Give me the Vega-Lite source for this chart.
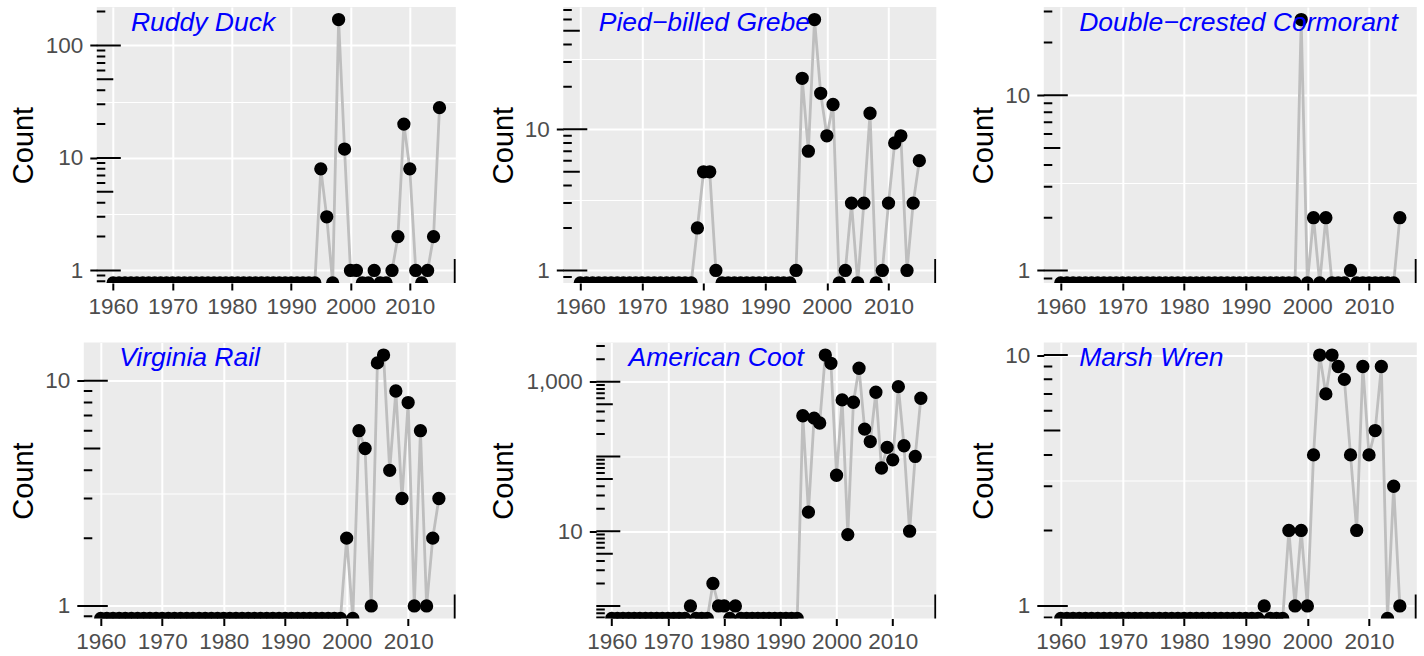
{
  "$schema": "https://vega.github.io/schema/vega-lite/v6.json",
  "background": "white",
  "padding": {"left": 8.8, "top": 7, "right": 0, "bottom": 0},
  "datasets": {
    "logticks": [
      {"v": 0.6, "kind": "short"}, {"v": 0.7, "kind": "short"}, {"v": 0.8, "kind": "short"}, {"v": 0.9, "kind": "short"},
      {"v": 1, "kind": "long"}, {"v": 2, "kind": "short"}, {"v": 3, "kind": "short"}, {"v": 4, "kind": "short"}, {"v": 5, "kind": "mid"},
      {"v": 6, "kind": "short"}, {"v": 7, "kind": "short"}, {"v": 8, "kind": "short"}, {"v": 9, "kind": "short"},
      {"v": 10, "kind": "long"}, {"v": 20, "kind": "short"}, {"v": 30, "kind": "short"}, {"v": 40, "kind": "short"}, {"v": 50, "kind": "mid"},
      {"v": 60, "kind": "short"}, {"v": 70, "kind": "short"}, {"v": 80, "kind": "short"}, {"v": 90, "kind": "short"},
      {"v": 100, "kind": "long"}, {"v": 200, "kind": "short"}, {"v": 300, "kind": "short"}, {"v": 400, "kind": "short"}, {"v": 500, "kind": "mid"},
      {"v": 600, "kind": "short"}, {"v": 700, "kind": "short"}, {"v": 800, "kind": "short"}, {"v": 900, "kind": "short"},
      {"v": 1000, "kind": "long"}, {"v": 2000, "kind": "short"}, {"v": 3000, "kind": "short"}
    ],
    "ruddy": [
      {"year":1960,"count":0},{"year":1961,"count":0},{"year":1962,"count":0},{"year":1963,"count":0},{"year":1964,"count":0},{"year":1965,"count":0},{"year":1966,"count":0},{"year":1967,"count":0},{"year":1968,"count":0},{"year":1969,"count":0},
      {"year":1970,"count":0},{"year":1971,"count":0},{"year":1972,"count":0},{"year":1973,"count":0},{"year":1974,"count":0},{"year":1975,"count":0},{"year":1976,"count":0},{"year":1977,"count":0},{"year":1978,"count":0},{"year":1979,"count":0},
      {"year":1980,"count":0},{"year":1981,"count":0},{"year":1982,"count":0},{"year":1983,"count":0},{"year":1984,"count":0},{"year":1985,"count":0},{"year":1986,"count":0},{"year":1987,"count":0},{"year":1988,"count":0},{"year":1989,"count":0},
      {"year":1990,"count":0},{"year":1991,"count":0},{"year":1992,"count":0},{"year":1993,"count":0},{"year":1994,"count":0},{"year":1995,"count":8},{"year":1996,"count":3},{"year":1997,"count":0},{"year":1998,"count":170},{"year":1999,"count":12},
      {"year":2000,"count":1},{"year":2001,"count":1},{"year":2002,"count":0},{"year":2003,"count":0},{"year":2004,"count":1},{"year":2005,"count":0},{"year":2006,"count":0},{"year":2007,"count":1},{"year":2008,"count":2},{"year":2009,"count":20},
      {"year":2010,"count":8},{"year":2011,"count":1},{"year":2012,"count":0},{"year":2013,"count":1},{"year":2014,"count":2},{"year":2015,"count":28}
    ],
    "grebe": [
      {"year":1960,"count":0},{"year":1961,"count":0},{"year":1962,"count":0},{"year":1963,"count":0},{"year":1964,"count":0},{"year":1965,"count":0},{"year":1966,"count":0},{"year":1967,"count":0},{"year":1968,"count":0},{"year":1969,"count":0},
      {"year":1970,"count":0},{"year":1971,"count":0},{"year":1972,"count":0},{"year":1973,"count":0},{"year":1974,"count":0},{"year":1975,"count":0},{"year":1976,"count":0},{"year":1977,"count":0},{"year":1978,"count":0},{"year":1979,"count":2},
      {"year":1980,"count":5},{"year":1981,"count":5},{"year":1982,"count":1},{"year":1983,"count":0},{"year":1984,"count":0},{"year":1985,"count":0},{"year":1986,"count":0},{"year":1987,"count":0},{"year":1988,"count":0},{"year":1989,"count":0},
      {"year":1990,"count":0},{"year":1991,"count":0},{"year":1992,"count":0},{"year":1993,"count":0},{"year":1994,"count":0},{"year":1995,"count":1},{"year":1996,"count":23},{"year":1997,"count":7},{"year":1998,"count":60},{"year":1999,"count":18},
      {"year":2000,"count":9},{"year":2001,"count":15},{"year":2002,"count":0},{"year":2003,"count":1},{"year":2004,"count":3},{"year":2005,"count":0},{"year":2006,"count":3},{"year":2007,"count":13},{"year":2008,"count":0},{"year":2009,"count":1},
      {"year":2010,"count":3},{"year":2011,"count":8},{"year":2012,"count":9},{"year":2013,"count":1},{"year":2014,"count":3},{"year":2015,"count":6}
    ],
    "cormorant": [
      {"year":1960,"count":0},{"year":1961,"count":0},{"year":1962,"count":0},{"year":1963,"count":0},{"year":1964,"count":0},{"year":1965,"count":0},{"year":1966,"count":0},{"year":1967,"count":0},{"year":1968,"count":0},{"year":1969,"count":0},
      {"year":1970,"count":0},{"year":1971,"count":0},{"year":1972,"count":0},{"year":1973,"count":0},{"year":1974,"count":0},{"year":1975,"count":0},{"year":1976,"count":0},{"year":1977,"count":0},{"year":1978,"count":0},{"year":1979,"count":0},
      {"year":1980,"count":0},{"year":1981,"count":0},{"year":1982,"count":0},{"year":1983,"count":0},{"year":1984,"count":0},{"year":1985,"count":0},{"year":1986,"count":0},{"year":1987,"count":0},{"year":1988,"count":0},{"year":1989,"count":0},
      {"year":1990,"count":0},{"year":1991,"count":0},{"year":1992,"count":0},{"year":1993,"count":0},{"year":1994,"count":0},{"year":1995,"count":0},{"year":1996,"count":0},{"year":1997,"count":0},{"year":1998,"count":0},{"year":1999,"count":27},
      {"year":2000,"count":0},{"year":2001,"count":2},{"year":2002,"count":0},{"year":2003,"count":2},{"year":2004,"count":0},{"year":2005,"count":0},{"year":2006,"count":0},{"year":2007,"count":1},{"year":2008,"count":0},{"year":2009,"count":0},
      {"year":2010,"count":0},{"year":2011,"count":0},{"year":2012,"count":0},{"year":2013,"count":0},{"year":2014,"count":0},{"year":2015,"count":2}
    ],
    "rail": [
      {"year":1960,"count":0},{"year":1961,"count":0},{"year":1962,"count":0},{"year":1963,"count":0},{"year":1964,"count":0},{"year":1965,"count":0},{"year":1966,"count":0},{"year":1967,"count":0},{"year":1968,"count":0},{"year":1969,"count":0},
      {"year":1970,"count":0},{"year":1971,"count":0},{"year":1972,"count":0},{"year":1973,"count":0},{"year":1974,"count":0},{"year":1975,"count":0},{"year":1976,"count":0},{"year":1977,"count":0},{"year":1978,"count":0},{"year":1979,"count":0},
      {"year":1980,"count":0},{"year":1981,"count":0},{"year":1982,"count":0},{"year":1983,"count":0},{"year":1984,"count":0},{"year":1985,"count":0},{"year":1986,"count":0},{"year":1987,"count":0},{"year":1988,"count":0},{"year":1989,"count":0},
      {"year":1990,"count":0},{"year":1991,"count":0},{"year":1992,"count":0},{"year":1993,"count":0},{"year":1994,"count":0},{"year":1995,"count":0},{"year":1996,"count":0},{"year":1997,"count":0},{"year":1998,"count":0},{"year":1999,"count":0},
      {"year":2000,"count":2},{"year":2001,"count":0},{"year":2002,"count":6},{"year":2003,"count":5},{"year":2004,"count":1},{"year":2005,"count":12},{"year":2006,"count":13},{"year":2007,"count":4},{"year":2008,"count":9},{"year":2009,"count":3},
      {"year":2010,"count":8},{"year":2011,"count":1},{"year":2012,"count":6},{"year":2013,"count":1},{"year":2014,"count":2},{"year":2015,"count":3}
    ],
    "coot": [
      {"year":1960,"count":0},{"year":1961,"count":0},{"year":1962,"count":0},{"year":1963,"count":0},{"year":1964,"count":0},{"year":1965,"count":0},{"year":1966,"count":0},{"year":1967,"count":0},{"year":1968,"count":0},{"year":1969,"count":0},
      {"year":1970,"count":0},{"year":1971,"count":0},{"year":1972,"count":0},{"year":1973,"count":0},{"year":1974,"count":1},{"year":1975,"count":0},{"year":1976,"count":0},{"year":1977,"count":0},{"year":1978,"count":2},{"year":1979,"count":1},
      {"year":1980,"count":1},{"year":1981,"count":0},{"year":1982,"count":1},{"year":1983,"count":0},{"year":1984,"count":0},{"year":1985,"count":0},{"year":1986,"count":0},{"year":1987,"count":0},{"year":1988,"count":0},{"year":1989,"count":0},
      {"year":1990,"count":0},{"year":1991,"count":0},{"year":1992,"count":0},{"year":1993,"count":0},{"year":1994,"count":350},{"year":1995,"count":18},{"year":1996,"count":325},{"year":1997,"count":280},{"year":1998,"count":2270},{"year":1999,"count":1760},
      {"year":2000,"count":56},{"year":2001,"count":570},{"year":2002,"count":9},{"year":2003,"count":530},{"year":2004,"count":1510},{"year":2005,"count":232},{"year":2006,"count":158},{"year":2007,"count":722},{"year":2008,"count":70},{"year":2009,"count":132},
      {"year":2010,"count":90},{"year":2011,"count":857},{"year":2012,"count":139},{"year":2013,"count":10},{"year":2014,"count":100},{"year":2015,"count":600}
    ],
    "wren": [
      {"year":1960,"count":0},{"year":1961,"count":0},{"year":1962,"count":0},{"year":1963,"count":0},{"year":1964,"count":0},{"year":1965,"count":0},{"year":1966,"count":0},{"year":1967,"count":0},{"year":1968,"count":0},{"year":1969,"count":0},
      {"year":1970,"count":0},{"year":1971,"count":0},{"year":1972,"count":0},{"year":1973,"count":0},{"year":1974,"count":0},{"year":1975,"count":0},{"year":1976,"count":0},{"year":1977,"count":0},{"year":1978,"count":0},{"year":1979,"count":0},
      {"year":1980,"count":0},{"year":1981,"count":0},{"year":1982,"count":0},{"year":1983,"count":0},{"year":1984,"count":0},{"year":1985,"count":0},{"year":1986,"count":0},{"year":1987,"count":0},{"year":1988,"count":0},{"year":1989,"count":0},
      {"year":1990,"count":0},{"year":1991,"count":0},{"year":1992,"count":0},{"year":1993,"count":1},{"year":1994,"count":0},{"year":1995,"count":0},{"year":1996,"count":0},{"year":1997,"count":2},{"year":1998,"count":1},{"year":1999,"count":2},
      {"year":2000,"count":1},{"year":2001,"count":4},{"year":2002,"count":10},{"year":2003,"count":7},{"year":2004,"count":10},{"year":2005,"count":9},{"year":2006,"count":8},{"year":2007,"count":4},{"year":2008,"count":2},{"year":2009,"count":9},
      {"year":2010,"count":4},{"year":2011,"count":5},{"year":2012,"count":9},{"year":2013,"count":0},{"year":2014,"count":3},{"year":2015,"count":1}
    ]
  },
  "spacing": 24.5,
  "vconcat": [
    {
      "spacing": 0,
      "hconcat": [
        {"width": 1, "height": 276, "view": {"fill": null, "stroke": null}, "data": {"values": []}, "mark": {"type": "point", "size": 0, "opacity": 0}, "encoding": {}},
        {
          "spacing": 33.5,
          "hconcat": [
            {
              "width": 359, "height": 276,
              "layer": [
                {"data": {"name": "ruddy"}, "mark": {"type": "line", "color": "#BEBEBE", "strokeWidth": 2.8, "clip": true},
                 "encoding": {
                   "x": {"field": "year", "type": "quantitative", "scale": {"domain": [1957.25, 2017.75], "nice": false, "zero": false},
                         "axis": {"title": null, "values": [1960,1965,1970,1975,1980,1985,1990,1995,2000,2005,2010,2015], "format": "d", "labelExpr": "datum.value % 10 == 0 ? datum.label : ''", "gridWidth": {"condition": {"test": "datum.value % 10 == 0", "value": 2}, "value": 1}, "tickOpacity": {"condition": {"test": "datum.value % 10 == 0", "value": 1}, "value": 0}}},
                   "y": {"field": "count", "type": "quantitative", "scale": {"type": "log", "domain": [0.7737, 219.8], "nice": false, "clamp": true},
                         "axis": {"title": "Count", "titleX": -64, "titleY": 138, "values": [1, 3.1623, 10, 31.623, 100], "format": ",", "labelExpr": "datum.value == 1 || datum.value == 10 || datum.value == 100 ? datum.label : ''", "gridWidth": {"condition": {"test": "datum.value == 1 || datum.value == 10 || datum.value == 100", "value": 2}, "value": 1}, "tickOpacity": {"condition": {"test": "datum.value == 1 || datum.value == 10 || datum.value == 100", "value": 1}, "value": 0}}}
                 }},
                {"data": {"name": "ruddy"}, "mark": {"type": "circle", "size": 177, "color": "#000000", "opacity": 1, "clip": true},
                 "encoding": {"x": {"field": "year", "type": "quantitative"}, "y": {"field": "count", "type": "quantitative"}}},
                {"data": {"name": "logticks"}, "transform": [{"filter": {"field": "v", "range": [0.7737, 219.8]}}],
                 "mark": {"type": "tick", "orient": "horizontal", "thickness": 2, "color": "#000000", "opacity": 1, "clip": true},
                 "encoding": {"x": {"datum": 1957.25}, "y": {"field": "v", "type": "quantitative"},
                              "size": {"condition": [{"test": "datum.kind == 'long'", "value": 48}, {"test": "datum.kind == 'mid'", "value": 33}], "value": 17}}},
                {"data": {"values": [{}]}, "mark": {"type": "tick", "orient": "vertical", "thickness": 2, "size": 48, "color": "#000000", "opacity": 1, "clip": true},
                 "encoding": {"x": {"datum": 2017.58}, "y": {"datum": 0.7737}}},
                {"data": {"values": [{"label": "Ruddy Duck"}]}, "mark": {"type": "text", "align": "left", "baseline": "alphabetic", "dy": 23.7, "font": "Liberation Sans", "fontStyle": "italic", "fontSize": 26.5, "color": "#0000FF"},
                 "encoding": {"x": {"datum": 1963}, "y": {"datum": 219.8}, "text": {"field": "label"}}}
              ]
            },
            {
              "width": 373, "height": 276,
              "layer": [
                {"data": {"name": "grebe"}, "mark": {"type": "line", "color": "#BEBEBE", "strokeWidth": 2.8, "clip": true},
                 "encoding": {
                   "x": {"field": "year", "type": "quantitative", "scale": {"domain": [1957.25, 2017.75], "nice": false, "zero": false},
                         "axis": {"title": null, "values": [1960,1965,1970,1975,1980,1985,1990,1995,2000,2005,2010,2015], "format": "d", "labelExpr": "datum.value % 10 == 0 ? datum.label : ''", "gridWidth": {"condition": {"test": "datum.value % 10 == 0", "value": 2}, "value": 1}, "tickOpacity": {"condition": {"test": "datum.value % 10 == 0", "value": 1}, "value": 0}}},
                   "y": {"field": "count", "type": "quantitative", "scale": {"type": "log", "domain": [0.8147, 73.64], "nice": false, "clamp": true},
                         "axis": {"title": "Count", "titleX": -51, "titleY": 138, "values": [1, 3.1623, 10, 31.623], "format": ",", "labelExpr": "datum.value == 1 || datum.value == 10 ? datum.label : ''", "gridWidth": {"condition": {"test": "datum.value == 1 || datum.value == 10", "value": 2}, "value": 1}, "tickOpacity": {"condition": {"test": "datum.value == 1 || datum.value == 10", "value": 1}, "value": 0}}}
                 }},
                {"data": {"name": "grebe"}, "mark": {"type": "circle", "size": 177, "color": "#000000", "opacity": 1, "clip": true},
                 "encoding": {"x": {"field": "year", "type": "quantitative"}, "y": {"field": "count", "type": "quantitative"}}},
                {"data": {"name": "logticks"}, "transform": [{"filter": {"field": "v", "range": [0.8147, 73.64]}}],
                 "mark": {"type": "tick", "orient": "horizontal", "thickness": 2, "color": "#000000", "opacity": 1, "clip": true},
                 "encoding": {"x": {"datum": 1957.25}, "y": {"field": "v", "type": "quantitative"},
                              "size": {"condition": [{"test": "datum.kind == 'long'", "value": 48}, {"test": "datum.kind == 'mid'", "value": 33}], "value": 17}}},
                {"data": {"values": [{}]}, "mark": {"type": "tick", "orient": "vertical", "thickness": 2, "size": 48, "color": "#000000", "opacity": 1, "clip": true},
                 "encoding": {"x": {"datum": 2017.58}, "y": {"datum": 0.8147}}},
                {"data": {"values": [{"label": "Pied−billed Grebe"}]}, "mark": {"type": "text", "align": "left", "baseline": "alphabetic", "dy": 23.7, "font": "Liberation Sans", "fontStyle": "italic", "fontSize": 26.5, "color": "#0000FF"},
                 "encoding": {"x": {"datum": 1963}, "y": {"datum": 73.64}, "text": {"field": "label"}}}
              ]
            },
            {
              "width": 373, "height": 276,
              "layer": [
                {"data": {"name": "cormorant"}, "mark": {"type": "line", "color": "#BEBEBE", "strokeWidth": 2.8, "clip": true},
                 "encoding": {
                   "x": {"field": "year", "type": "quantitative", "scale": {"domain": [1957.25, 2017.75], "nice": false, "zero": false},
                         "axis": {"title": null, "values": [1960,1965,1970,1975,1980,1985,1990,1995,2000,2005,2010,2015], "format": "d", "labelExpr": "datum.value % 10 == 0 ? datum.label : ''", "gridWidth": {"condition": {"test": "datum.value % 10 == 0", "value": 2}, "value": 1}, "tickOpacity": {"condition": {"test": "datum.value % 10 == 0", "value": 1}, "value": 0}}},
                   "y": {"field": "count", "type": "quantitative", "scale": {"type": "log", "domain": [0.848, 31.84], "nice": false, "clamp": true},
                         "axis": {"title": "Count", "titleX": -51, "titleY": 138, "values": [1, 3.1623, 10], "format": ",", "labelExpr": "datum.value == 1 || datum.value == 10 ? datum.label : ''", "gridWidth": {"condition": {"test": "datum.value == 1 || datum.value == 10", "value": 2}, "value": 1}, "tickOpacity": {"condition": {"test": "datum.value == 1 || datum.value == 10", "value": 1}, "value": 0}}}
                 }},
                {"data": {"name": "cormorant"}, "mark": {"type": "circle", "size": 177, "color": "#000000", "opacity": 1, "clip": true},
                 "encoding": {"x": {"field": "year", "type": "quantitative"}, "y": {"field": "count", "type": "quantitative"}}},
                {"data": {"name": "logticks"}, "transform": [{"filter": {"field": "v", "range": [0.848, 31.84]}}],
                 "mark": {"type": "tick", "orient": "horizontal", "thickness": 2, "color": "#000000", "opacity": 1, "clip": true},
                 "encoding": {"x": {"datum": 1957.25}, "y": {"field": "v", "type": "quantitative"},
                              "size": {"condition": [{"test": "datum.kind == 'long'", "value": 48}, {"test": "datum.kind == 'mid'", "value": 33}], "value": 17}}},
                {"data": {"values": [{}]}, "mark": {"type": "tick", "orient": "vertical", "thickness": 2, "size": 48, "color": "#000000", "opacity": 1, "clip": true},
                 "encoding": {"x": {"datum": 2017.58}, "y": {"datum": 0.848}}},
                {"data": {"values": [{"label": "Double−crested Cormorant"}]}, "mark": {"type": "text", "align": "left", "baseline": "alphabetic", "dy": 23.7, "font": "Liberation Sans", "fontStyle": "italic", "fontSize": 26.5, "color": "#0000FF"},
                 "encoding": {"x": {"datum": 1963}, "y": {"datum": 31.84}, "text": {"field": "label"}}}
              ]
            }
          ]
        }
      ]
    },
    {
      "spacing": 0,
      "hconcat": [
        {"width": 1, "height": 276, "view": {"fill": null, "stroke": null}, "data": {"values": []}, "mark": {"type": "point", "size": 0, "opacity": 0}, "encoding": {}},
        {
          "spacing": 33.5,
          "hconcat": [
            {
              "width": 372, "height": 276,
              "layer": [
                {"data": {"name": "rail"}, "mark": {"type": "line", "color": "#BEBEBE", "strokeWidth": 2.8, "clip": true},
                 "encoding": {
                   "x": {"field": "year", "type": "quantitative", "scale": {"domain": [1957.25, 2017.75], "nice": false, "zero": false},
                         "axis": {"title": null, "values": [1960,1965,1970,1975,1980,1985,1990,1995,2000,2005,2010,2015], "format": "d", "labelExpr": "datum.value % 10 == 0 ? datum.label : ''", "gridWidth": {"condition": {"test": "datum.value % 10 == 0", "value": 2}, "value": 1}, "tickOpacity": {"condition": {"test": "datum.value % 10 == 0", "value": 1}, "value": 0}}},
                   "y": {"field": "count", "type": "quantitative", "scale": {"type": "log", "domain": [0.8796, 14.78], "nice": false, "clamp": true},
                         "axis": {"title": "Count", "titleX": -51, "titleY": 138, "values": [1, 3.1623, 10], "format": ",", "labelExpr": "datum.value == 1 || datum.value == 10 ? datum.label : ''", "gridWidth": {"condition": {"test": "datum.value == 1 || datum.value == 10", "value": 2}, "value": 1}, "tickOpacity": {"condition": {"test": "datum.value == 1 || datum.value == 10", "value": 1}, "value": 0}}}
                 }},
                {"data": {"name": "rail"}, "mark": {"type": "circle", "size": 177, "color": "#000000", "opacity": 1, "clip": true},
                 "encoding": {"x": {"field": "year", "type": "quantitative"}, "y": {"field": "count", "type": "quantitative"}}},
                {"data": {"name": "logticks"}, "transform": [{"filter": {"field": "v", "range": [0.8796, 14.78]}}],
                 "mark": {"type": "tick", "orient": "horizontal", "thickness": 2, "color": "#000000", "opacity": 1, "clip": true},
                 "encoding": {"x": {"datum": 1957.25}, "y": {"field": "v", "type": "quantitative"},
                              "size": {"condition": [{"test": "datum.kind == 'long'", "value": 48}, {"test": "datum.kind == 'mid'", "value": 33}], "value": 17}}},
                {"data": {"values": [{}]}, "mark": {"type": "tick", "orient": "vertical", "thickness": 2, "size": 48, "color": "#000000", "opacity": 1, "clip": true},
                 "encoding": {"x": {"datum": 2017.58}, "y": {"datum": 0.8796}}},
                {"data": {"values": [{"label": "Virginia Rail"}]}, "mark": {"type": "text", "align": "left", "baseline": "alphabetic", "dy": 23.7, "font": "Liberation Sans", "fontStyle": "italic", "fontSize": 26.5, "color": "#0000FF"},
                 "encoding": {"x": {"datum": 1963}, "y": {"datum": 14.78}, "text": {"field": "label"}}}
              ]
            },
            {
              "width": 340, "height": 276,
              "layer": [
                {"data": {"name": "coot"}, "mark": {"type": "line", "color": "#BEBEBE", "strokeWidth": 2.8, "clip": true},
                 "encoding": {
                   "x": {"field": "year", "type": "quantitative", "scale": {"domain": [1957.25, 2017.75], "nice": false, "zero": false},
                         "axis": {"title": null, "values": [1960,1965,1970,1975,1980,1985,1990,1995,2000,2005,2010,2015], "format": "d", "labelExpr": "datum.value % 10 == 0 ? datum.label : ''", "gridWidth": {"condition": {"test": "datum.value % 10 == 0", "value": 2}, "value": 1}, "tickOpacity": {"condition": {"test": "datum.value % 10 == 0", "value": 1}, "value": 0}}},
                   "y": {"field": "count", "type": "quantitative", "scale": {"type": "log", "domain": [0.6796, 3340], "nice": false, "clamp": true},
                         "axis": {"title": "Count", "titleX": -84, "titleY": 138, "values": [1, 10, 100, 1000], "format": ",", "labelExpr": "datum.value == 10 || datum.value == 1000 ? datum.label : ''", "gridWidth": {"condition": {"test": "datum.value == 10 || datum.value == 1000", "value": 2}, "value": 1}, "tickOpacity": {"condition": {"test": "datum.value == 10 || datum.value == 1000", "value": 1}, "value": 0}}}
                 }},
                {"data": {"name": "coot"}, "mark": {"type": "circle", "size": 177, "color": "#000000", "opacity": 1, "clip": true},
                 "encoding": {"x": {"field": "year", "type": "quantitative"}, "y": {"field": "count", "type": "quantitative"}}},
                {"data": {"name": "logticks"}, "transform": [{"filter": {"field": "v", "range": [0.6796, 3340]}}],
                 "mark": {"type": "tick", "orient": "horizontal", "thickness": 2, "color": "#000000", "opacity": 1, "clip": true},
                 "encoding": {"x": {"datum": 1957.25}, "y": {"field": "v", "type": "quantitative"},
                              "size": {"condition": [{"test": "datum.kind == 'long'", "value": 48}, {"test": "datum.kind == 'mid'", "value": 33}], "value": 17}}},
                {"data": {"values": [{}]}, "mark": {"type": "tick", "orient": "vertical", "thickness": 2, "size": 48, "color": "#000000", "opacity": 1, "clip": true},
                 "encoding": {"x": {"datum": 2017.58}, "y": {"datum": 0.6796}}},
                {"data": {"values": [{"label": "American Coot"}]}, "mark": {"type": "text", "align": "left", "baseline": "alphabetic", "dy": 23.7, "font": "Liberation Sans", "fontStyle": "italic", "fontSize": 26.5, "color": "#0000FF"},
                 "encoding": {"x": {"datum": 1963}, "y": {"datum": 3340}, "text": {"field": "label"}}}
              ]
            },
            {
              "width": 373, "height": 276,
              "layer": [
                {"data": {"name": "wren"}, "mark": {"type": "line", "color": "#BEBEBE", "strokeWidth": 2.8, "clip": true},
                 "encoding": {
                   "x": {"field": "year", "type": "quantitative", "scale": {"domain": [1957.25, 2017.75], "nice": false, "zero": false},
                         "axis": {"title": null, "values": [1960,1965,1970,1975,1980,1985,1990,1995,2000,2005,2010,2015], "format": "d", "labelExpr": "datum.value % 10 == 0 ? datum.label : ''", "gridWidth": {"condition": {"test": "datum.value % 10 == 0", "value": 2}, "value": 1}, "tickOpacity": {"condition": {"test": "datum.value % 10 == 0", "value": 1}, "value": 0}}},
                   "y": {"field": "count", "type": "quantitative", "scale": {"type": "log", "domain": [0.8913, 11.22], "nice": false, "clamp": true},
                         "axis": {"title": "Count", "titleX": -51, "titleY": 138, "values": [1, 3.1623, 10], "format": ",", "labelExpr": "datum.value == 1 || datum.value == 10 ? datum.label : ''", "gridWidth": {"condition": {"test": "datum.value == 1 || datum.value == 10", "value": 2}, "value": 1}, "tickOpacity": {"condition": {"test": "datum.value == 1 || datum.value == 10", "value": 1}, "value": 0}}}
                 }},
                {"data": {"name": "wren"}, "mark": {"type": "circle", "size": 177, "color": "#000000", "opacity": 1, "clip": true},
                 "encoding": {"x": {"field": "year", "type": "quantitative"}, "y": {"field": "count", "type": "quantitative"}}},
                {"data": {"name": "logticks"}, "transform": [{"filter": {"field": "v", "range": [0.8913, 11.22]}}],
                 "mark": {"type": "tick", "orient": "horizontal", "thickness": 2, "color": "#000000", "opacity": 1, "clip": true},
                 "encoding": {"x": {"datum": 1957.25}, "y": {"field": "v", "type": "quantitative"},
                              "size": {"condition": [{"test": "datum.kind == 'long'", "value": 48}, {"test": "datum.kind == 'mid'", "value": 33}], "value": 17}}},
                {"data": {"values": [{}]}, "mark": {"type": "tick", "orient": "vertical", "thickness": 2, "size": 48, "color": "#000000", "opacity": 1, "clip": true},
                 "encoding": {"x": {"datum": 2017.58}, "y": {"datum": 0.8913}}},
                {"data": {"values": [{"label": "Marsh Wren"}]}, "mark": {"type": "text", "align": "left", "baseline": "alphabetic", "dy": 23.7, "font": "Liberation Sans", "fontStyle": "italic", "fontSize": 26.5, "color": "#0000FF"},
                 "encoding": {"x": {"datum": 1963}, "y": {"datum": 11.22}, "text": {"field": "label"}}}
              ]
            }
          ]
        }
      ]
    }
  ],
  "config": {
    "view": {"fill": "#EBEBEB", "stroke": null},
    "font": "Liberation Sans",
    "axis": {
      "domain": false, "grid": true, "gridColor": "#FFFFFF",
      "tickColor": "#000000", "tickWidth": 2, "tickSize": 7,
      "labelFont": "Liberation Sans", "labelFontSize": 22.5, "labelColor": "#4D4D4D",
      "labelFlush": false, "labelOverlap": false,
      "titleFont": "Liberation Sans", "titleFontSize": 29, "titleFontWeight": "normal", "titleColor": "#000000",
      "titleBaseline": "alphabetic", "titleAlign": "center"
    },
    "axisX": {"labelPadding": 5, "labelFontSize": 22.5},
    "axisY": {"labelPadding": 7, "titleAngle": 270}
  }
}
